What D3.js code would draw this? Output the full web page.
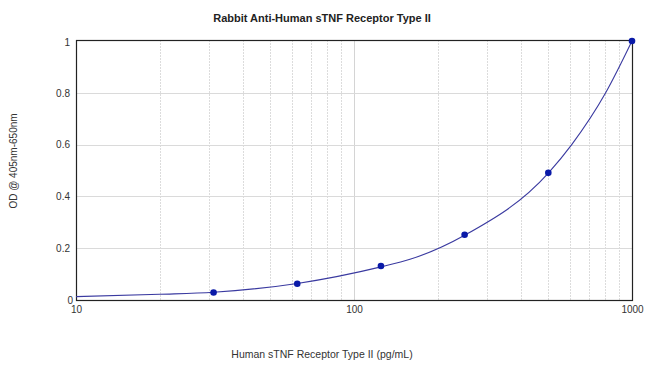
<!DOCTYPE html>
<html><head><meta charset="utf-8">
<script src="https://cdn.jsdelivr.net/npm/d3@7"></script>
<style>body{margin:0;background:#fff;} svg{display:block;}</style>
</head><body>
<svg id="c" width="650" height="366"></svg>
<script>
const concentrations = [31.25, 62.5, 125, 250, 500, 1000];
const odValues = [0.029, 0.063, 0.131, 0.252, 0.491, 1.0];
const curveX = [10, 20, 31.25, 62.5, 125, 159, 250, 500, 607, 804, 1000];
const curveY = [0.013, 0.022, 0.030, 0.064, 0.128, 0.157, 0.250, 0.490, 0.600, 0.800, 1.0];
const xTicks = [10, 100, 1000];
const yTicks = [0, 0.2, 0.4, 0.6, 0.8, 1];
const title = "Rabbit Anti-Human sTNF Receptor Type II";
const xLabel = "Human sTNF Receptor Type II (pg/mL)";
const yLabel = "OD @ 405nm-650nm";

const svg = d3.select("#c");
const L = 76, R = 632, T = 40, B = 300;
const x = d3.scaleLog().domain([10, 1000]).range([L, R]);
const y = d3.scaleLinear().domain([0, 1]).range([B, T + 1]);
const font = "'Liberation Sans', Arial, sans-serif";

// minor vertical grid
const minor = [];
for (let d = 10; d < 1000; d *= 10) for (let k = 2; k <= 9; k++) minor.push(d * k);
minor.push(100);
svg.append("g").selectAll("line").data(minor).join("line")
  .attr("x1", d => Math.round(x(d)) + 0.5).attr("x2", d => Math.round(x(d)) + 0.5)
  .attr("y1", T).attr("y2", B)
  .attr("stroke", d => d === 100 ? "#d4d4d4" : "#dcdcdc").attr("stroke-width", 1)
  .attr("stroke-dasharray", d => d === 100 ? null : "2,1");
svg.append("g").selectAll("line").data(yTicks.filter(v => v > 0 && v < 1)).join("line")
  .attr("x1", L).attr("x2", R)
  .attr("y1", d => Math.round(y(d)) + 0.5).attr("y2", d => Math.round(y(d)) + 0.5)
  .attr("stroke", "#dadada").attr("stroke-width", 1);

// frame
svg.append("rect").attr("x", L + 0.5).attr("y", T + 0.5).attr("width", R - L).attr("height", B - T)
  .attr("fill", "none").attr("stroke", "#222").attr("stroke-width", 1.2);

// axes tick labels
const xAxis = d3.axisBottom(x).tickValues(xTicks).tickFormat(d3.format("d")).tickSize(0).tickPadding(6);
const gx = svg.append("g").attr("transform", `translate(0,${B})`).call(xAxis);
gx.select(".domain").remove();
gx.selectAll("text").attr("font-family", font).attr("font-size", 10).attr("fill", "#333");
const yAxis = d3.axisLeft(y).tickValues(yTicks).tickFormat(d => d3.format("")(d)).tickSize(0).tickPadding(6);
const gy = svg.append("g").attr("transform", `translate(${L},0)`).call(yAxis);
gy.select(".domain").remove();
gy.selectAll("text").attr("font-family", font).attr("font-size", 10).attr("fill", "#333")
  .attr("dy", d => d === 0 ? "0.3em" : d === 1 ? "0.4em" : "0.32em")
  .attr("dx", d => d === 0 ? "3" : "0");

// curve
const pts = curveX.map((c, i) => [c, curveY[i]]);
svg.append("path").datum(pts)
  .attr("d", d3.line().x(d => x(d[0])).y(d => y(d[1])).curve(d3.curveMonotoneX))
  .attr("fill", "none").attr("stroke", "#3a3aa0").attr("stroke-width", 1.1);

// points
svg.append("g").selectAll("circle").data(concentrations).join("circle")
  .attr("cx", d => x(d)).attr("cy", (d, i) => y(odValues[i])).attr("r", 3.3)
  .attr("fill", "#0a1aa8");

// titles
svg.append("text").attr("x", 322).attr("y", 22).attr("text-anchor", "middle")
  .attr("font-family", font).attr("font-size", 11).attr("font-weight", "bold").attr("fill", "#222")
  .text(title);
svg.append("text").attr("x", 322).attr("y", 358).attr("text-anchor", "middle")
  .attr("font-family", font).attr("font-size", 10.5).attr("fill", "#333").text(xLabel);
svg.append("text").attr("transform", "translate(17,161) rotate(-90)").attr("text-anchor", "middle")
  .attr("font-family", font).attr("font-size", 10).attr("fill", "#333").text(yLabel);
</script>
</body></html>
